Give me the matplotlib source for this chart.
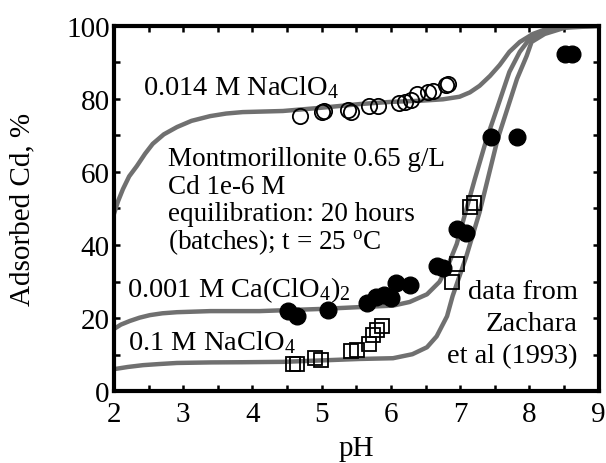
import matplotlib
matplotlib.use("Agg")
import matplotlib.pyplot as plt
from matplotlib.ticker import MultipleLocator

plt.rcParams["font.family"] = ["Liberation Serif", "DejaVu Serif"]
plt.rcParams["mathtext.fontset"] = "custom"
plt.rcParams["mathtext.rm"] = "Liberation Serif"
plt.rcParams["mathtext.it"] = "Liberation Serif:italic"
plt.rcParams["mathtext.default"] = "regular"

# measured data (Zachara et al 1993)
ph_na014 = [4.68, 5.00, 5.03, 5.38, 5.43, 5.68, 5.82, 6.11, 6.20, 6.29, 6.37, 6.53, 6.60, 6.79, 6.83]
ads_na014 = [75.4, 76.5, 76.8, 77.0, 76.5, 78.0, 78.0, 79.0, 79.2, 79.8, 81.3, 82.0, 82.3, 83.8, 84.2]

ph_ca001 = [4.51, 4.64, 5.09, 5.65, 5.78, 5.90, 6.00, 6.08, 6.27, 6.66, 6.75, 6.95, 7.08, 7.45, 7.82, 8.51, 8.62]
ads_ca001 = [21.9, 20.5, 22.1, 24.0, 25.7, 26.2, 25.4, 29.5, 29.0, 34.2, 33.6, 44.5, 43.4, 69.7, 69.7, 92.3, 92.3]

ph_na1 = [4.58, 4.64, 4.90, 4.99, 5.43, 5.51, 5.69, 5.74, 5.80, 5.87, 6.88, 6.96, 7.14, 7.20]
ads_na1 = [7.4, 7.4, 9.0, 8.5, 10.9, 11.2, 12.8, 15.3, 16.7, 17.8, 30.0, 34.7, 50.5, 51.4]

# model curves
ph_m_na014 = [2.0, 2.06, 2.13, 2.22, 2.33, 2.45, 2.56, 2.72, 2.91, 3.12, 3.39, 3.62, 3.86, 4.44,
              5.0, 5.55, 6.0, 6.42, 6.75, 6.99, 7.14, 7.28, 7.43, 7.57, 7.71, 7.86, 8.05,
              8.25, 8.54, 9.0]
ads_m_na014 = [48.5, 52.0, 55.3, 58.8, 61.6, 65.0, 67.7, 70.3, 72.3, 74.0, 75.3, 76.0, 76.4, 76.7,
               77.6, 78.6, 79.2, 79.5, 79.9, 80.6, 81.8, 83.6, 86.3, 89.3, 92.9, 95.6, 97.8,
               99.2, 100.0, 100.0]

ph_m_ca001 = [2.0, 2.1, 2.23, 2.37, 2.52, 2.7, 2.91, 3.39, 4.1, 5.0, 5.55, 6.03, 6.27, 6.52,
              6.70, 6.82, 6.95, 7.07, 7.21, 7.38, 7.53, 7.71, 7.86, 8.0, 8.22, 8.51, 9.0]
ads_m_ca001 = [17.0, 18.2, 19.2, 20.1, 20.8, 21.3, 21.6, 21.9, 21.9, 22.5, 23.0, 23.4, 24.4, 26.5,
               29.9, 34.2, 40.3, 48.5, 58.0, 69.0, 77.3, 87.4, 92.9, 96.4, 98.6, 99.7, 100.0]

ph_m_na1 = [2.0, 2.2, 2.42, 2.65, 2.91, 3.4, 3.86, 4.44, 5.0, 5.55, 6.03, 6.31, 6.52, 6.66, 6.81,
            6.89, 6.99, 7.09, 7.28, 7.54, 7.82, 7.96, 8.03, 8.22, 8.51, 9.0]
ads_m_na1 = [6.0, 6.6, 7.1, 7.4, 7.7, 7.85, 7.9, 8.0, 8.4, 8.8, 9.0, 10.1, 12.0, 15.0, 20.5,
             26.0, 31.5, 37.0, 49.0, 69.0, 85.5, 91.8, 95.6, 97.8, 99.5, 100.0]

fig = plt.figure(figsize=(6.06, 4.64), dpi=100)
ax = fig.add_axes([0.188, 0.155, 0.8, 0.787])

line_kw = dict(color="#707070", lw=3.2, solid_capstyle="butt", zorder=2)
ax.plot(ph_m_na014, ads_m_na014, **line_kw)
ax.plot(ph_m_ca001, ads_m_ca001, **line_kw)
ax.plot(ph_m_na1, ads_m_na1, **line_kw)

ax.plot(ph_na014, ads_na014, "o", ms=11, mfc="none", mec="black", mew=1.3, zorder=3)
ax.plot(ph_ca001, ads_ca001, "o", ms=12, mfc="black", mec="black", zorder=3)
ax.plot(ph_na1, ads_na1, "s", ms=10.5, mfc="none", mec="black", mew=1.3, zorder=3)

ax.set_xlim(2, 9)
ax.set_ylim(0, 100)
ax.xaxis.set_major_locator(MultipleLocator(1))
ax.xaxis.set_minor_locator(MultipleLocator(0.5))
ax.yaxis.set_major_locator(MultipleLocator(20))
ax.yaxis.set_minor_locator(MultipleLocator(10))
ax.tick_params(which="both", direction="in", top=True, right=True, length=4, width=1.8,
               labelsize=21)
ax.tick_params(axis="x", pad=7)
ax.tick_params(axis="y", pad=3)
for sp in ax.spines.values():
    sp.set_linewidth(3)

ax.set_xlabel("pH", fontsize=21, labelpad=6)
ax.set_ylabel("Adsorbed Cd, %", fontsize=21, labelpad=22)

ax.text(2.42, 83.5, "0.014 M NaClO$_4$", fontsize=20.5, va="center")
ax.text(2.19, 28.0, "0.001 M Ca(ClO$_4$)$_2$", fontsize=20.5, va="center")
ax.text(2.2, 13.4, "0.1 M NaClO$_4$", fontsize=20.5, va="center")
info = ["Montmorillonite 0.65 g/L", "Cd 1e-6 M", "equilibration: 20 hours",
        "(batches); t = 25 $^o$C"]
for i, s in enumerate(info):
    ax.text(2.78, 63.6 - 7.5 * i, s, fontsize=19.5, va="center")
ref = ["data from", "Zachara", "et al (1993)"]
for i, s in enumerate(ref):
    ax.text(8.7, 27.4 - 8.9 * i, s, fontsize=20.5, va="center", ha="right")

fig.savefig("out.png", dpi=100)
